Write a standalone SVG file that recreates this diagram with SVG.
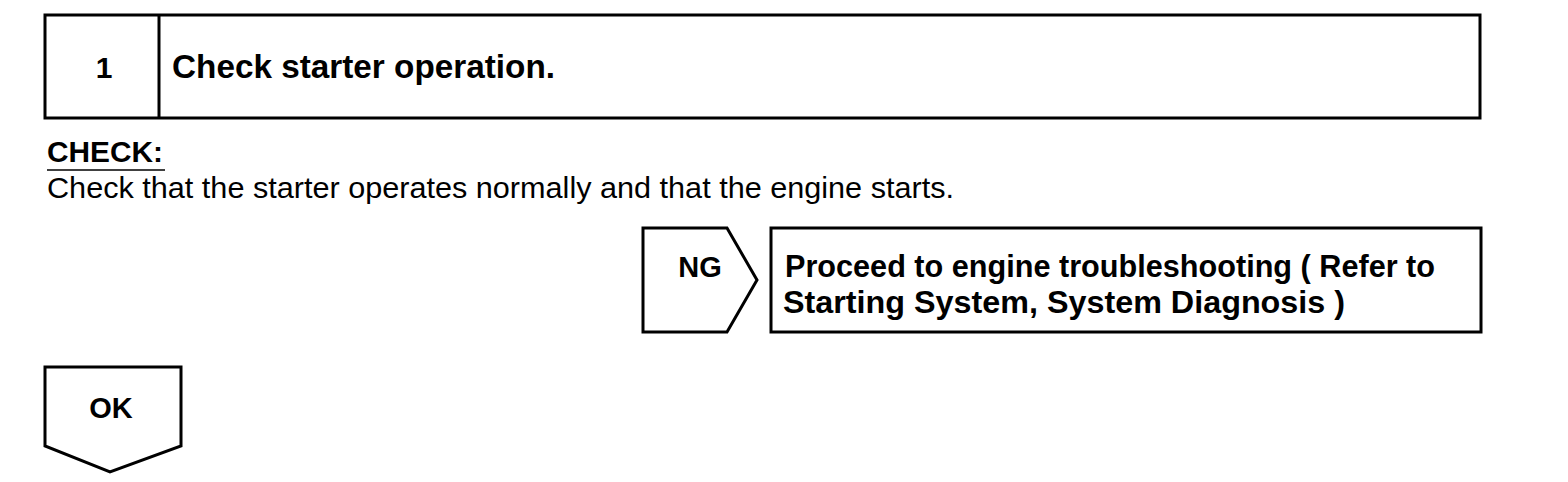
<svg xmlns="http://www.w3.org/2000/svg" width="1568" height="482" viewBox="0 0 1568 482">
<style>
.box{fill:#fff;stroke:#000;stroke-width:3}
.b{font-family:"Liberation Sans",Arial,sans-serif;font-weight:bold;fill:#000}
.r{font-family:"Liberation Sans",Arial,sans-serif;fill:#000}
</style>
<rect width="1568" height="482" fill="#fff"/>
<g id="step1">
<rect class="box" x="45" y="15" width="1435" height="103"/>
<line x1="159" y1="15" x2="159" y2="118" stroke="#000" stroke-width="3"/>
<text class="b" x="104" y="78" font-size="30" text-anchor="middle">1</text>
<text class="b" x="172" y="78" font-size="33" textLength="383" lengthAdjust="spacingAndGlyphs">Check starter operation.</text>
</g>
<g id="check">
<text class="b" x="47" y="162" font-size="29" textLength="116" lengthAdjust="spacingAndGlyphs">CHECK:</text>
<line x1="47" y1="170" x2="165" y2="170" stroke="#000" stroke-width="1.5"/>
<text class="r" x="47" y="198" font-size="29" textLength="907" lengthAdjust="spacingAndGlyphs">Check that the starter operates normally and that the engine starts.</text>
</g>
<g id="ng">
<polygon class="box" points="643,228 727,228 757,280 727,332 643,332"/>
<text class="b" x="700" y="277" font-size="29" text-anchor="middle">NG</text>
</g>
<g id="ng-result">
<rect class="box" x="771" y="228" width="710" height="104"/>
<text class="b" x="785" y="277" font-size="32" textLength="650" lengthAdjust="spacingAndGlyphs">Proceed to engine troubleshooting ( Refer to</text>
<text class="b" x="783" y="313" font-size="32" textLength="562" lengthAdjust="spacingAndGlyphs">Starting System, System Diagnosis )</text>
</g>
<g id="ok">
<polygon class="box" points="45,367 181,367 181,446 110,472 45,446"/>
<text class="b" x="111" y="418" font-size="29" text-anchor="middle">OK</text>
</g>
<g id="connectors"></g>
</svg>
